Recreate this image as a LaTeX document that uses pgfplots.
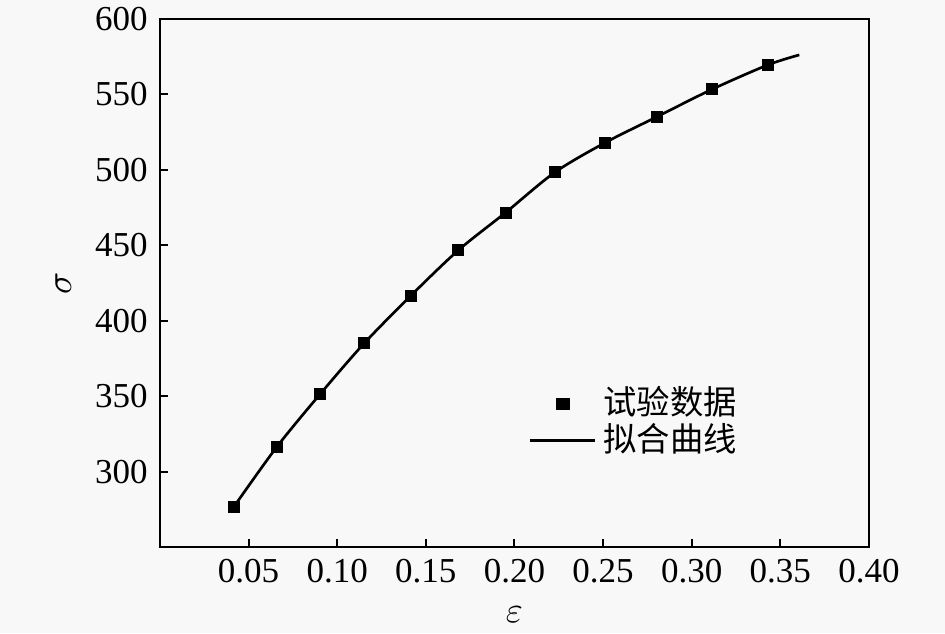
\documentclass[border=0pt]{standalone}
\usepackage{fontspec}
\setmainfont{Liberation Serif}
\newfontfamily\cjk{Noto Sans CJK SC}
\usepackage{pgfplots}
\pgfplotsset{compat=1.18}
\usetikzlibrary{backgrounds}
\definecolor{bg}{HTML}{F8F8F8}
\begin{document}
\fontsize{10.5}{12}\selectfont
\begin{tikzpicture}
\begin{axis}[
  name=ax,
  scale only axis,
  width=212.7pt, height=158.4pt,
  xmin=0, xmax=0.40, ymin=250, ymax=600,
  xtick={0.05,0.10,0.15,0.20,0.25,0.30,0.35,0.40},
  ytick={300,350,400,450,500,550,600},
  xticklabel style={/pgf/number format/.cd,fixed,fixed zerofill,precision=2},
  /pgf/number format/assume math mode=true,
  tick align=inside,
  tick pos=left,
  major tick length=2.5pt,
  axis line style={line width=0.8pt},
  tick style={line width=0.6pt, black},
  xlabel={$\varepsilon$},
  ylabel={$\sigma$},
  ylabel style={yshift=0pt},
  legend style={at={(0.505,0.33)}, anchor=north west, draw=none, fill=none,
    font=\cjk\fontsize{10}{12}\selectfont, row sep=-3pt},
  legend image post style={xscale=1.15},
  legend cell align=left,
]
\addplot[only marks, mark=square*, mark size=1.6pt, black] coordinates {
(0.0417,276.7) (0.0658,316.2) (0.0903,351.3) (0.1151,384.9) (0.1416,416.7)
(0.1683,446.7) (0.1950,471.7) (0.2228,498.4) (0.2511,518.0) (0.2802,535.1)
(0.3113,553.3) (0.3428,569.5)
};
\addlegendentry{试验数据}
\addplot[black, line width=0.8pt, smooth, no marks] coordinates {
(0.0417,276.7) (0.0658,316.2) (0.0903,351.3) (0.1151,384.9) (0.1416,416.7)
(0.1683,446.7) (0.1950,471.7) (0.2228,498.4) (0.2511,518.0) (0.2802,535.1)
(0.3113,553.3) (0.3428,569.5) (0.3607,576.2)
};
\addlegendentry{拟合曲线}
\end{axis}
\pgfresetboundingbox
\begin{pgfonlayer}{background}
\fill[bg] ([shift={(-48pt,-25.8pt)}]ax.south west) rectangle ([shift={(22.8pt,5.7pt)}]ax.north east);
\end{pgfonlayer}
\end{tikzpicture}
\end{document}
